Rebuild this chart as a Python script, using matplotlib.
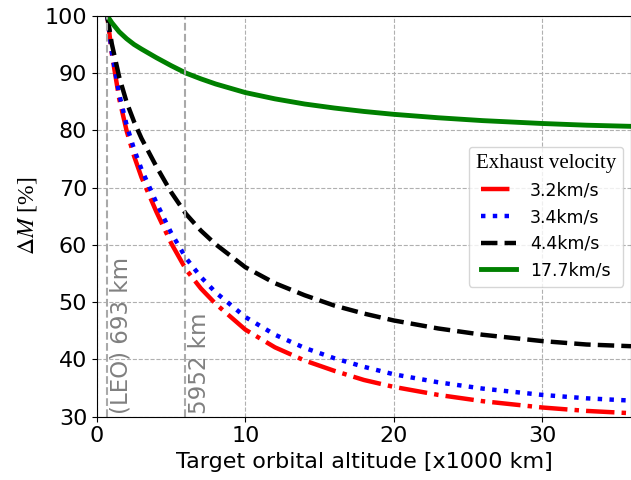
import matplotlib
matplotlib.use('Agg')
import matplotlib.pyplot as plt

# values
altitude = [0.693, 1, 1.5, 2, 2.5, 3, 4, 5, 6, 7, 8, 10, 12, 14, 16, 18, 20, 23, 26, 30, 33, 36]
dm_32 = [100, 93.4, 85.5, 79.9, 75.5, 71.8, 65.8, 60.3, 55.7, 52.4, 49.7, 45.2, 42.1, 39.8,
         38.0, 36.4, 35.2, 33.8, 32.7, 31.6, 31.0, 30.6]
dm_34 = [100, 93.7, 86.3, 80.9, 76.7, 73.2, 67.4, 62.1, 57.7, 54.4, 51.7, 47.4, 44.3, 42.0,
         40.2, 38.7, 37.4, 36.0, 34.9, 33.8, 33.2, 32.8]
dm_44 = [100, 95.1, 89.3, 84.9, 81.5, 78.6, 73.7, 69.2, 65.4, 62.5, 60.1, 56.1, 53.3, 51.2,
         49.4, 48.0, 46.8, 45.4, 44.3, 43.2, 42.6, 42.3]
dm_177 = [100, 98.8, 97.2, 96.0, 95.0, 94.2, 92.7, 91.3, 90.0, 89.0, 88.1, 86.6, 85.5, 84.6,
          83.9, 83.3, 82.8, 82.2, 81.7, 81.2, 80.9, 80.7]
markers_alt = [0.693, 5.952]
markers_txt = ['(LEO) 693 km', '5952 km']
x_ticks = [0, 10, 20, 30]

plt.rcParams['mathtext.fontset'] = 'stix'

fig = plt.figure(figsize=(6.31, 4.80), dpi=100)
ax = fig.add_axes([0.1537, 0.132, 0.8463, 0.835])

lw = 3.2
ax.plot(altitude, dm_32, color='red', linestyle='-.', lw=lw, label='3.2km/s')
ax.plot(altitude, dm_34, color='blue', linestyle=':', lw=lw, label='3.4km/s')
ax.plot(altitude, dm_44, color='black', linestyle='--', lw=lw, label='4.4km/s')
ax.plot(altitude, dm_177, color='green', linestyle='-', lw=3.5, label='17.7km/s')

for xa, txt in zip(markers_alt, markers_txt):
    ax.axvline(xa, color='darkgray', linestyle='--', lw=1.5)
    ax.text(xa + 0.15, 30.4, txt, rotation=90, color='gray', fontsize=16.5,
            ha='left', va='bottom')

ax.set_xlim(0, 36)
ax.set_ylim(30, 100)
ax.set_xticks(x_ticks)
ax.grid(True, linestyle='--')
ax.tick_params(labelsize=16)
ax.set_xlabel('Target orbital altitude [x1000 km]', fontsize=16)
ax.set_ylabel(r'$\Delta M$ [%]', fontsize=17, family='Liberation Serif')

ax.legend(title='Exhaust velocity', fontsize=12.5, loc='upper right',
          bbox_to_anchor=(0.985, 0.673), borderaxespad=0,
          title_fontproperties={'family': 'Liberation Serif', 'size': 15})

fig.savefig('out.png', dpi=100)
